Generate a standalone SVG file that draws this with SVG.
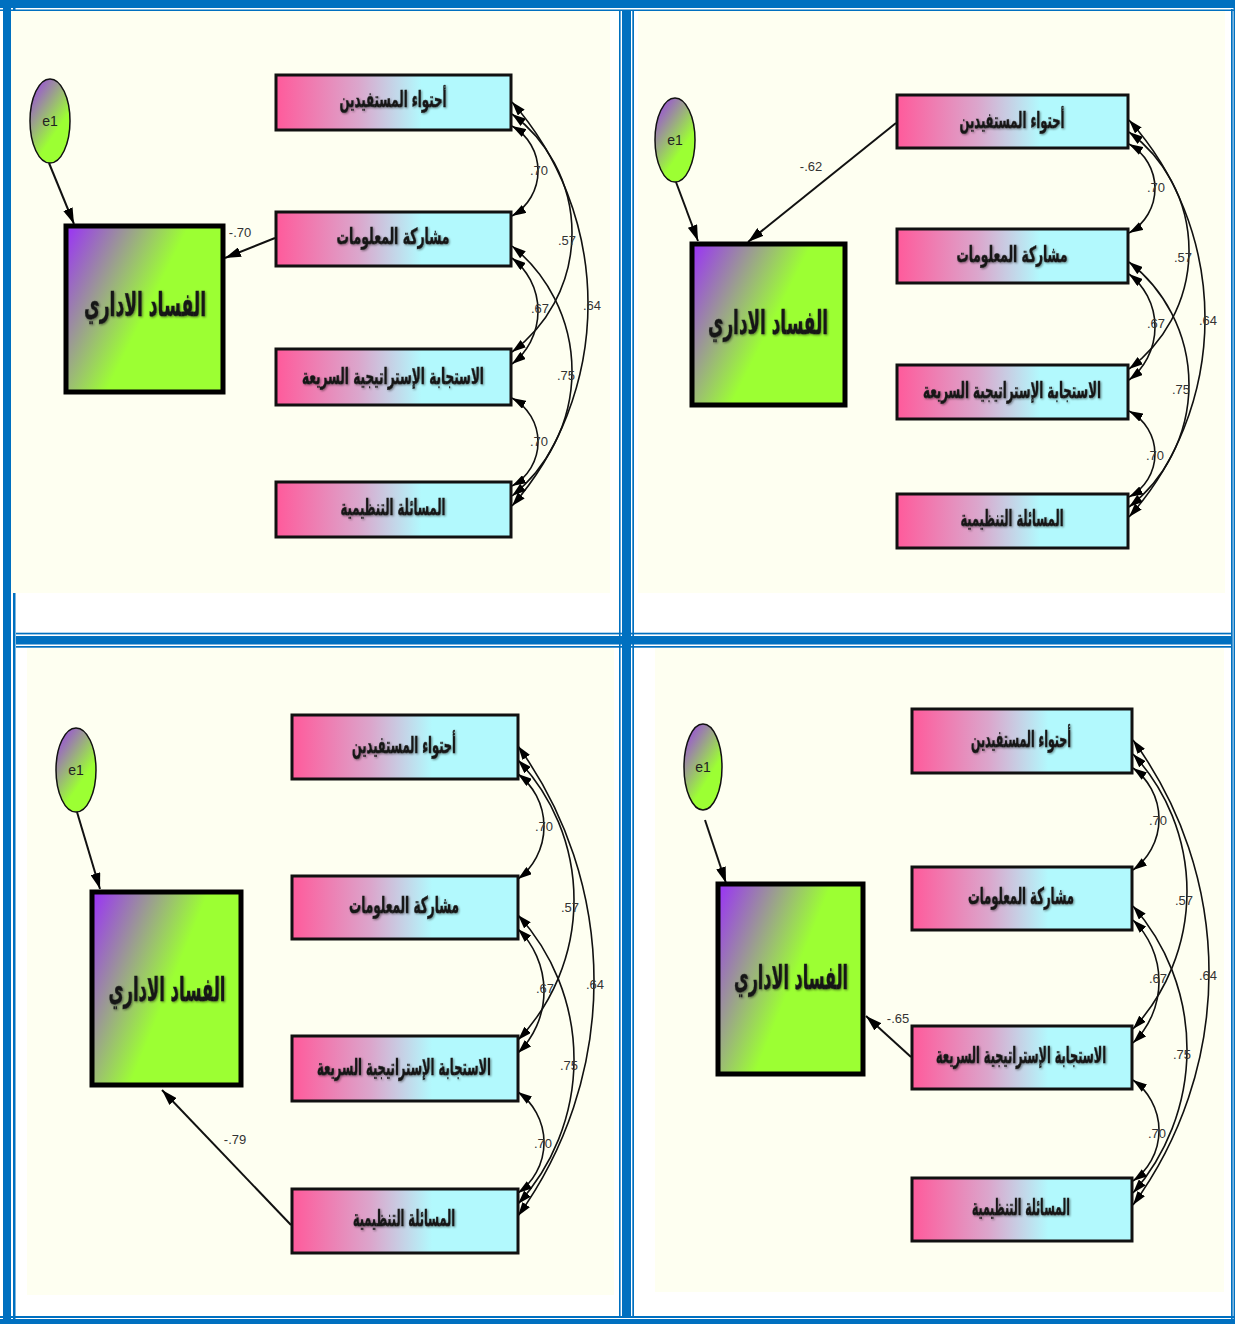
<svg xmlns="http://www.w3.org/2000/svg" width="1235" height="1324" viewBox="0 0 1235 1324">
  <style>
    .fr { fill: #0070c0; }
    .panel { fill: #fefff1; }
    .obs { fill: url(#gObs); stroke: #111; stroke-width: 3; }
    .lat { fill: url(#gLat); stroke: #000; stroke-width: 5; }
    .err { fill: url(#gErr); stroke: #111; stroke-width: 1.5; }
    .ar { font-family: "DejaVu Sans", "Noto Sans", sans-serif; font-weight: bold; fill: #141414; stroke: #2a2a2a; stroke-width: 0.5; text-anchor: middle; filter: url(#soft); }
    .ar19 { font-size: 22px; }
    .ar20 { font-size: 23px; }
    .ar28 { font-size: 33px; }
    .en { font-family: "Liberation Sans", Arial, sans-serif; font-size: 14px; fill: #222; text-anchor: middle; }
    .num { font-family: "Liberation Sans", Arial, sans-serif; font-size: 13px; fill: #333; text-anchor: middle; }
    .path { fill: none; stroke: #111; stroke-width: 2; marker-end: url(#headBig); }
    .cov { fill: none; stroke: #111; stroke-width: 1.6; marker-start: url(#headCov); marker-end: url(#headCov); }
  </style>
  <defs>
    <linearGradient id="gObs" x1="0" y1="0" x2="1" y2="0">
      <stop offset="0" stop-color="#ff5a9b"/>
      <stop offset="0.35" stop-color="#dba6cc"/>
      <stop offset="0.62" stop-color="#b2f9fd"/>
      <stop offset="1" stop-color="#b2f9fd"/>
    </linearGradient>
    <linearGradient id="gLat" x1="0" y1="0" x2="0.85" y2="0.45">
      <stop offset="0" stop-color="#9a2ffa"/>
      <stop offset="0.72" stop-color="#9cff33"/>
      <stop offset="1" stop-color="#9cff33"/>
    </linearGradient>
    <linearGradient id="gErr" x1="0.1" y1="0" x2="0.7" y2="0.85">
      <stop offset="0" stop-color="#9a40e8"/>
      <stop offset="0.8" stop-color="#9cff33"/>
    </linearGradient>
    <!-- slight shadow behind the Arabic captions -->
    <filter id="soft" x="-10%" y="-30%" width="120%" height="160%">
      <feGaussianBlur in="SourceAlpha" stdDeviation="1" result="b"/>
      <feOffset in="b" dx="1" dy="1" result="o"/>
      <feFlood flood-color="#000" flood-opacity="0.45"/>
      <feComposite in2="o" operator="in" result="s"/>
      <feMerge><feMergeNode in="s"/><feMergeNode in="SourceGraphic"/></feMerge>
    </filter>
    <marker id="headBig" markerUnits="userSpaceOnUse" markerWidth="16" markerHeight="10" refX="16" refY="5" orient="auto">
      <path d="M0,0 L16,5 L0,10 z" fill="#000"/>
    </marker>
    <marker id="headCov" markerUnits="userSpaceOnUse" markerWidth="14" markerHeight="9" refX="14" refY="4.5" orient="auto-start-reverse">
      <path d="M0,0 L14,4.5 L0,9 z" fill="#000"/>
    </marker>
  </defs>

  <!-- page and table frame -->
  <rect width="1235" height="1324" fill="#ffffff"/>
  <g id="frame">
    <rect class="fr" x="0" y="9.5" width="1235" height="1.5"/>
    <rect class="fr" x="13" y="0" width="2.5" height="1324"/>
    <rect class="fr" x="1231" y="9" width="1.7" height="1310"/>
    <rect class="fr" x="0" y="1316" width="1235" height="2"/>
    <rect class="fr" x="619" y="11" width="1.6" height="1305"/>
    <rect class="fr" x="632.3" y="11" width="1.7" height="1305"/>
    <rect class="fr" x="16" y="632.7" width="1215" height="1.7"/>
    <rect class="fr" x="16" y="646" width="1215" height="1.7"/>
    <rect class="fr" x="622" y="11" width="9" height="1305"/>
    <rect class="fr" x="16" y="636" width="1215" height="8.5"/>
    <rect class="fr" x="0" y="0" width="1235" height="8"/>
    <rect class="fr" x="3" y="0" width="8" height="1324"/>
    <rect class="fr" x="1233.5" y="0" width="1.5" height="1324"/>
    <rect class="fr" x="0" y="1319" width="1235" height="5"/>
  </g>

  <!-- panel backgrounds -->
  <rect class="panel" x="11" y="11" width="599" height="582"/>
  <rect class="panel" x="638" y="11" width="587" height="582"/>
  <rect class="panel" x="27" y="648" width="587" height="647"/>
  <rect class="panel" x="655" y="648" width="569" height="644"/>

  <!-- ===== Model A (top left) ===== -->
  <g id="a-connectors">
    <path class="path" d="M49,163 L74,224"/>
    <path class="path" d="M275,238 L225,258"/>
    <path class="cov" d="M512,126 A51.9,51.9 0 0 1 512,216"/>
    <path class="cov" d="M512,114 A148,148 0 0 1 512,352"/>
    <path class="cov" d="M512,102 A306.4,306.4 0 0 1 512,506"/>
    <path class="cov" d="M512,258 A67,67 0 0 1 512,364"/>
    <path class="cov" d="M512,246 A160.2,160.2 0 0 1 512,496"/>
    <path class="cov" d="M512,398 A50.2,50.2 0 0 1 512,486"/>
    <text class="num" x="240" y="237">-.70</text>
    <text class="num" x="539" y="175">.70</text>
    <text class="num" x="567" y="245">.57</text>
    <text class="num" x="592" y="310">.64</text>
    <text class="num" x="540" y="313">.67</text>
    <text class="num" x="566" y="380">.75</text>
    <text class="num" x="539" y="446">.70</text>
  </g>
  <g id="a-e1">
    <ellipse class="err" cx="50" cy="121" rx="20" ry="42"/>
    <text class="en" x="50" y="126">e1</text>
  </g>
  <g id="a-fasad">
    <rect class="lat" x="66" y="226" width="157" height="166"/>
    <text class="ar ar28" x="145" y="316" textLength="122" lengthAdjust="spacingAndGlyphs">الفساد الاداري</text>
  </g>
  <g id="a-ihtiwa">
    <rect class="obs" x="276" y="75" width="235" height="55"/>
    <text class="ar ar19" x="393" y="107" textLength="107" lengthAdjust="spacingAndGlyphs">أحتواء المستفيدين</text>
  </g>
  <g id="a-musharaka">
    <rect class="obs" x="276" y="212" width="235" height="54"/>
    <text class="ar ar19" x="393" y="244" textLength="113" lengthAdjust="spacingAndGlyphs">مشاركة المعلومات</text>
  </g>
  <g id="a-istijaba">
    <rect class="obs" x="276" y="349" width="235" height="56"/>
    <text class="ar ar19" x="393" y="384" textLength="182" lengthAdjust="spacingAndGlyphs">الاستجابة الإستراتيجية السريعة</text>
  </g>
  <g id="a-musaala">
    <rect class="obs" x="276" y="482" width="235" height="55"/>
    <text class="ar ar19" x="393" y="515" textLength="105" lengthAdjust="spacingAndGlyphs">المسائلة التنظيمية</text>
  </g>

  <!-- ===== Model B (top right) ===== -->
  <g id="b-connectors">
    <path class="path" d="M676,182 L698,241"/>
    <path class="path" d="M896,123 L748,242"/>
    <path class="cov" d="M1129,144 A51.1,51.1 0 0 1 1129,233"/>
    <path class="cov" d="M1129,132 A147,147 0 0 1 1129,369"/>
    <path class="cov" d="M1129,120 A297.2,297.2 0 0 1 1129,517"/>
    <path class="cov" d="M1129,274 A67,67 0 0 1 1129,380"/>
    <path class="cov" d="M1129,262 A155.1,155.1 0 0 1 1129,507"/>
    <path class="cov" d="M1129,411 A48.6,48.6 0 0 1 1129,497"/>
    <text class="num" x="811" y="171">-.62</text>
    <text class="num" x="1156" y="192">.70</text>
    <text class="num" x="1183" y="262">.57</text>
    <text class="num" x="1208" y="325">.64</text>
    <text class="num" x="1156" y="328">.67</text>
    <text class="num" x="1181" y="394">.75</text>
    <text class="num" x="1155" y="460">.70</text>
  </g>
  <g id="b-e1">
    <ellipse class="err" cx="675" cy="140" rx="20" ry="42"/>
    <text class="en" x="675" y="145">e1</text>
  </g>
  <g id="b-fasad">
    <rect class="lat" x="692" y="244" width="153" height="161"/>
    <text class="ar ar28" x="768" y="334" textLength="120" lengthAdjust="spacingAndGlyphs">الفساد الاداري</text>
  </g>
  <g id="b-ihtiwa">
    <rect class="obs" x="897" y="95" width="231" height="53"/>
    <text class="ar ar19" x="1012" y="128" textLength="105" lengthAdjust="spacingAndGlyphs">أحتواء المستفيدين</text>
  </g>
  <g id="b-musharaka">
    <rect class="obs" x="897" y="229" width="231" height="54"/>
    <text class="ar ar19" x="1012" y="262" textLength="111" lengthAdjust="spacingAndGlyphs">مشاركة المعلومات</text>
  </g>
  <g id="b-istijaba">
    <rect class="obs" x="897" y="365" width="231" height="54"/>
    <text class="ar ar19" x="1012" y="398" textLength="178" lengthAdjust="spacingAndGlyphs">الاستجابة الإستراتيجية السريعة</text>
  </g>
  <g id="b-musaala">
    <rect class="obs" x="897" y="494" width="231" height="54"/>
    <text class="ar ar19" x="1012" y="526" textLength="103" lengthAdjust="spacingAndGlyphs">المسائلة التنظيمية</text>
  </g>

  <!-- ===== Model C (bottom left) ===== -->
  <g id="c-connectors">
    <path class="path" d="M77,812 L100,889"/>
    <path class="path" d="M291,1225 L162,1090"/>
    <path class="cov" d="M518,774 A66,66 0 0 1 518,879"/>
    <path class="cov" d="M518,760 A203,203 0 0 1 518,1040"/>
    <path class="cov" d="M518,746 A401.3,401.3 0 0 1 518,1216"/>
    <path class="cov" d="M518,929 A86.9,86.9 0 0 1 518,1053"/>
    <path class="cov" d="M518,915 A214.4,214.4 0 0 1 518,1204"/>
    <path class="cov" d="M518,1092 A62,62 0 0 1 518,1193"/>
    <text class="num" x="235" y="1144">-.79</text>
    <text class="num" x="544" y="831">.70</text>
    <text class="num" x="570" y="912">.57</text>
    <text class="num" x="595" y="989">.64</text>
    <text class="num" x="545" y="993">.67</text>
    <text class="num" x="569" y="1070">.75</text>
    <text class="num" x="543" y="1148">.70</text>
  </g>
  <g id="c-e1">
    <ellipse class="err" cx="76" cy="770" rx="20" ry="42"/>
    <text class="en" x="76" y="775">e1</text>
  </g>
  <g id="c-fasad">
    <rect class="lat" x="92" y="892" width="149" height="193"/>
    <text class="ar ar28" x="167" y="1001" textLength="117" lengthAdjust="spacingAndGlyphs">الفساد الاداري</text>
  </g>
  <g id="c-ihtiwa">
    <rect class="obs" x="292" y="715" width="226" height="64"/>
    <text class="ar ar20" x="404" y="753" textLength="104" lengthAdjust="spacingAndGlyphs">أحتواء المستفيدين</text>
  </g>
  <g id="c-musharaka">
    <rect class="obs" x="292" y="876" width="226" height="63"/>
    <text class="ar ar20" x="404" y="913" textLength="110" lengthAdjust="spacingAndGlyphs">مشاركة المعلومات</text>
  </g>
  <g id="c-istijaba">
    <rect class="obs" x="292" y="1036" width="226" height="65"/>
    <text class="ar ar20" x="404" y="1075" textLength="174" lengthAdjust="spacingAndGlyphs">الاستجابة الإستراتيجية السريعة</text>
  </g>
  <g id="c-musaala">
    <rect class="obs" x="292" y="1189" width="226" height="64"/>
    <text class="ar ar20" x="404" y="1226" textLength="102" lengthAdjust="spacingAndGlyphs">المسائلة التنظيمية</text>
  </g>

  <!-- ===== Model D (bottom right) ===== -->
  <g id="d-connectors">
    <path class="path" d="M705,820 L726,883"/>
    <path class="path" d="M911,1057 L866,1016"/>
    <path class="cov" d="M1133,768 A63,63 0 0 1 1133,870"/>
    <path class="cov" d="M1133,754 A202.1,202.1 0 0 1 1133,1029"/>
    <path class="cov" d="M1133,740 A393.6,393.6 0 0 1 1133,1205"/>
    <path class="cov" d="M1133,920 A85.7,85.7 0 0 1 1133,1043"/>
    <path class="cov" d="M1133,906 A217.7,217.7 0 0 1 1133,1193"/>
    <path class="cov" d="M1133,1080 A62,62 0 0 1 1133,1181"/>
    <text class="num" x="898" y="1023">-.65</text>
    <text class="num" x="1158" y="825">.70</text>
    <text class="num" x="1184" y="905">.57</text>
    <text class="num" x="1208" y="980">.64</text>
    <text class="num" x="1158" y="983">.67</text>
    <text class="num" x="1182" y="1059">.75</text>
    <text class="num" x="1157" y="1138">.70</text>
  </g>
  <g id="d-e1">
    <ellipse class="err" cx="703" cy="767" rx="19" ry="43"/>
    <text class="en" x="703" y="772">e1</text>
  </g>
  <g id="d-fasad">
    <rect class="lat" x="718" y="884" width="145" height="190"/>
    <text class="ar ar28" x="791" y="989" textLength="114" lengthAdjust="spacingAndGlyphs">الفساد الاداري</text>
  </g>
  <g id="d-ihtiwa">
    <rect class="obs" x="912" y="709" width="220" height="64"/>
    <text class="ar ar20" x="1021" y="747" textLength="100" lengthAdjust="spacingAndGlyphs">أحتواء المستفيدين</text>
  </g>
  <g id="d-musharaka">
    <rect class="obs" x="912" y="867" width="220" height="63"/>
    <text class="ar ar20" x="1021" y="904" textLength="106" lengthAdjust="spacingAndGlyphs">مشاركة المعلومات</text>
  </g>
  <g id="d-istijaba">
    <rect class="obs" x="912" y="1026" width="220" height="63"/>
    <text class="ar ar20" x="1021" y="1063" textLength="170" lengthAdjust="spacingAndGlyphs">الاستجابة الإستراتيجية السريعة</text>
  </g>
  <g id="d-musaala">
    <rect class="obs" x="912" y="1178" width="220" height="63"/>
    <text class="ar ar20" x="1021" y="1215" textLength="98" lengthAdjust="spacingAndGlyphs">المسائلة التنظيمية</text>
  </g>
</svg>
